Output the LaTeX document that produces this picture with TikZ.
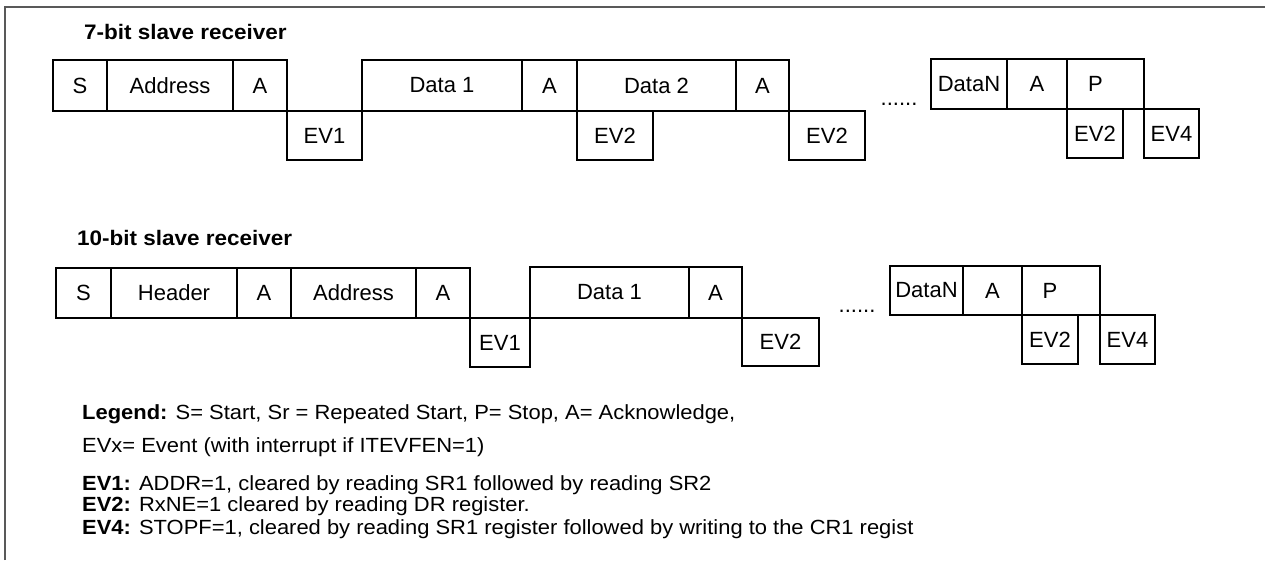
\documentclass[tikz,border=0pt]{standalone}
\usepackage{fontspec}
\setmainfont{Liberation Sans}
\newfontfamily\widefont{Liberation Sans}[FakeStretch=1.07]
\newcommand\segbox[6]{\node[box, minimum width={#4-#2}, minimum height={#5-#3}] (#1) at ({(#2+#4)/2},{(#3+#5)/2}) {#6};}
\begin{document}
\begin{tikzpicture}[x=1pt,y=-1pt,
  box/.style={draw, line width=1.4pt, inner sep=0pt, font=\fontsize{22}{26}\selectfont},
  frame/.style={draw=black!65, line width=1.6pt},
  head/.style={font=\widefont\bfseries\fontsize{21}{25}\selectfont, anchor=base west, inner sep=0pt},
  legend/.style={font=\widefont\fontsize{20.5}{24}\selectfont, anchor=base west, inner sep=0pt},
  dots/.style={font=\fontsize{22}{26}\selectfont, inner sep=0pt}]
\useasboundingbox (0,0) rectangle (1265,560);
\coordinate (fb) at (5,560);
\coordinate (fc) at (5,7);
\coordinate (fr) at (1265,7);
\draw[frame] (fb) -- (fc) -- (fr);
% 7-bit
\node[head] (h1) at (84,39) {7-bit slave receiver};
\segbox{s1}{53}{60}{107}{111}{S}
\segbox{ad1}{107}{60}{233}{111}{Address}
\segbox{a1}{233}{60}{287}{111}{A}
\segbox{ev11}{287}{111}{362}{160}{\raisebox{-4pt}{EV1}}
\segbox{d11}{362}{60}{522}{111}{Data 1}
\segbox{a12}{522}{60}{577}{111}{A}
\segbox{d12}{577}{60}{736}{111}{Data 2}
\segbox{a13}{736}{60}{789}{111}{A}
\segbox{ev21}{577}{111}{653}{160}{EV2}
\segbox{ev22}{789}{111}{865}{160}{EV2}
\node[dots] (dots1) at (899,104) {......};
\segbox{dn1}{931}{59}{1007}{109}{DataN}
\segbox{a14}{1007}{59}{1067}{109}{A}
\node[box, minimum width=77, minimum height=50, label={[font=\fontsize{22}{26}\selectfont, xshift=-10pt]center:P}] (p1) at (1105.5,84) {};
\segbox{ev23}{1067}{109}{1123}{158}{EV2}
\segbox{ev41}{1144}{109}{1199}{158}{EV4}
% 10-bit
\node[head] (h2) at (77,245) {10-bit slave receiver};
\segbox{s2}{56}{268}{111}{318}{S}
\segbox{hd2}{111}{268}{237}{318}{Header}
\segbox{a21}{237}{268}{291}{318}{A}
\segbox{ad2}{291}{268}{416}{318}{Address}
\segbox{a22}{416}{268}{470}{318}{A}
\segbox{ev12}{470}{318}{530}{367}{EV1}
\segbox{d21}{530}{267}{689}{318}{Data 1}
\segbox{a23}{689}{267}{742}{318}{A}
\segbox{ev24}{742}{318}{819}{366}{EV2}
\node[dots] (dots2) at (857,311) {......};
\segbox{dn2}{890}{266}{963}{315}{DataN}
\segbox{a24}{963}{266}{1022}{315}{A}
\node[box, minimum width=78, minimum height=49, label={[font=\fontsize{22}{26}\selectfont, xshift=-11pt]center:P}] (p2) at (1061,290.5) {};
\segbox{ev25}{1022}{315}{1078}{364}{EV2}
\segbox{ev42}{1100}{315}{1155}{364}{EV4}
% legend
\node[legend] (lg1) at (82,419) {\textbf{Legend:} S= Start, Sr = Repeated Start, P= Stop, A= Acknowledge,};
\node[legend] (lg2) at (82,452) {EVx= Event (with interrupt if ITEVFEN=1)};
\node[legend] (lg3) at (82,490) {\textbf{EV1:} ADDR=1, cleared by reading SR1 followed by reading SR2};
\node[legend] (lg4) at (82,511) {\textbf{EV2:} RxNE=1 cleared by reading DR register.};
\node[legend] (lg5) at (82,534) {\textbf{EV4:} STOPF=1, cleared by reading SR1 register followed by writing to the CR1 regist};
\end{tikzpicture}
\end{document}
